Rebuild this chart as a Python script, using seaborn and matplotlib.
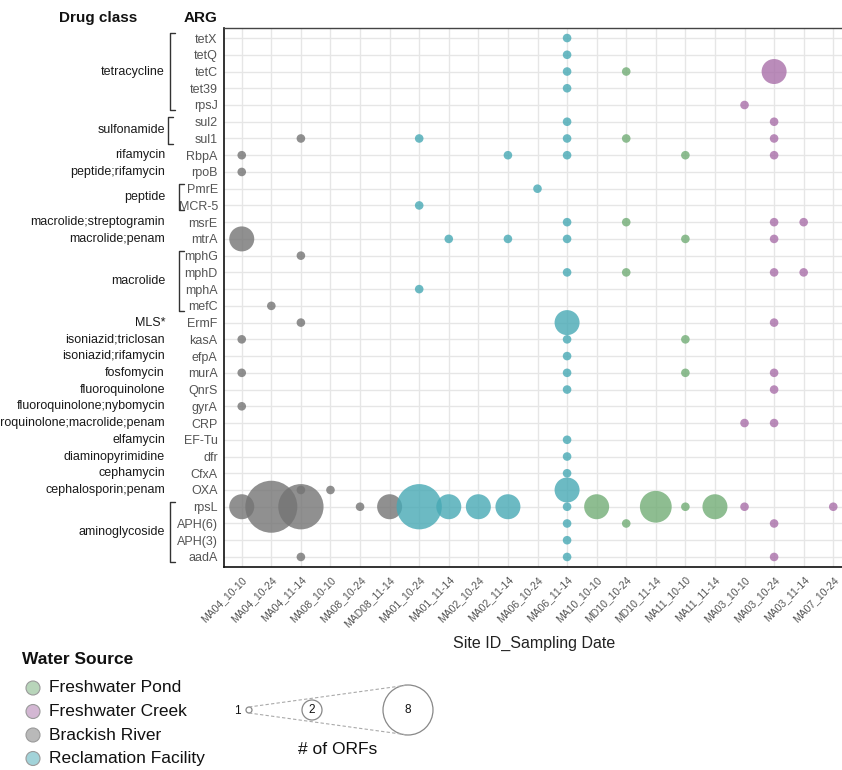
import numpy as np
import pandas as pd
import matplotlib
matplotlib.use("Agg")
import matplotlib.pyplot as plt
import matplotlib.transforms as mtrans
from matplotlib.patches import Circle
import seaborn as sns

# ---------------------------------------------------------------- data
samples = [
    "MA04_10-10", "MA04_10-24", "MA04_11-14", "MA08_10-10", "MA08_10-24",
    "MAD08_11-14", "MA01_10-24", "MA01_11-14", "MA02_10-24", "MA02_11-14",
    "MA06_10-24", "MA06_11-14", "MA10_10-10", "MD10_10-24", "MD10_11-14",
    "MA11_10-10", "MA11_11-14", "MA03_10-10", "MA03_10-24", "MA03_11-14",
    "MA07_10-24",
]
sample_source = (["Brackish River"] * 6 + ["Reclamation Facility"] * 6
                 + ["Freshwater Pond"] * 5 + ["Freshwater Creek"] * 4)

genes = [
    "tetX", "tetQ", "tetC", "tet39", "rpsJ", "sul2", "sul1", "RbpA", "rpoB",
    "PmrE", "MCR-5", "msrE", "mtrA", "mphG", "mphD", "mphA", "mefC", "ErmF",
    "kasA", "efpA", "murA", "QnrS", "gyrA", "CRP", "EF-Tu", "dfr", "CfxA",
    "OXA", "rpsL", "APH(6)", "APH(3)", "aadA",
]

# drug class annotation: (label, first ARG, last ARG)
drug_classes = [
    ("tetracycline", "tetX", "rpsJ"),
    ("sulfonamide", "sul2", "sul1"),
    ("rifamycin", "RbpA", "RbpA"),
    ("peptide;rifamycin", "rpoB", "rpoB"),
    ("peptide", "PmrE", "MCR-5"),
    ("macrolide;streptogramin", "msrE", "msrE"),
    ("macrolide;penam", "mtrA", "mtrA"),
    ("macrolide", "mphG", "mefC"),
    ("MLS*", "ErmF", "ErmF"),
    ("isoniazid;triclosan", "kasA", "kasA"),
    ("isoniazid;rifamycin", "efpA", "efpA"),
    ("fosfomycin", "murA", "murA"),
    ("fluoroquinolone", "QnrS", "QnrS"),
    ("fluoroquinolone;nybomycin", "gyrA", "gyrA"),
    ("fluoroquinolone;macrolide;penam", "CRP", "CRP"),
    ("elfamycin", "EF-Tu", "EF-Tu"),
    ("diaminopyrimidine", "dfr", "dfr"),
    ("cephamycin", "CfxA", "CfxA"),
    ("cephalosporin;penam", "OXA", "OXA"),
    ("aminoglycoside", "rpsL", "aadA"),
]

# detected ARGs, long format: sample, gene, number of ORFs
hit_sample = (
    ["MA04_10-10"] * 7 + ["MA04_10-24"] * 2 + ["MA04_11-14"] * 6
    + ["MA08_10-10"] + ["MA08_10-24"] + ["MAD08_11-14"]
    + ["MA01_10-24"] * 4 + ["MA01_11-14"] * 2 + ["MA02_10-24"]
    + ["MA02_11-14"] * 3 + ["MA06_10-24"] + ["MA06_11-14"] * 23
    + ["MA10_10-10"] + ["MD10_10-24"] * 5 + ["MD10_11-14"]
    + ["MA11_10-10"] * 5 + ["MA11_11-14"] + ["MA03_10-10"] * 3
    + ["MA03_10-24"] * 13 + ["MA03_11-14"] * 2 + ["MA07_10-24"]
)
hit_gene = [
    # MA04_10-10
    "RbpA", "rpoB", "mtrA", "kasA", "murA", "gyrA", "rpsL",
    # MA04_10-24
    "mefC", "rpsL",
    # MA04_11-14
    "sul1", "mphG", "ErmF", "OXA", "rpsL", "aadA",
    # MA08_10-10, MA08_10-24, MAD08_11-14
    "OXA", "rpsL", "rpsL",
    # MA01_10-24
    "sul1", "MCR-5", "mphA", "rpsL",
    # MA01_11-14
    "mtrA", "rpsL",
    # MA02_10-24
    "rpsL",
    # MA02_11-14
    "RbpA", "mtrA", "rpsL",
    # MA06_10-24
    "PmrE",
    # MA06_11-14
    "tetX", "tetQ", "tetC", "tet39", "sul2", "sul1", "RbpA", "msrE", "mtrA",
    "mphD", "ErmF", "kasA", "efpA", "murA", "QnrS", "EF-Tu", "dfr", "CfxA",
    "OXA", "rpsL", "APH(6)", "APH(3)", "aadA",
    # MA10_10-10
    "rpsL",
    # MD10_10-24
    "tetC", "sul1", "msrE", "mphD", "APH(6)",
    # MD10_11-14
    "rpsL",
    # MA11_10-10
    "RbpA", "mtrA", "kasA", "murA", "rpsL",
    # MA11_11-14
    "rpsL",
    # MA03_10-10
    "rpsJ", "CRP", "rpsL",
    # MA03_10-24
    "tetC", "sul2", "sul1", "RbpA", "msrE", "mtrA", "mphD", "ErmF", "murA",
    "QnrS", "CRP", "APH(6)", "aadA",
    # MA03_11-14
    "msrE", "mphD",
    # MA07_10-24
    "rpsL",
]
hit_orfs = [
    1, 1, 2, 1, 1, 1, 2,
    1, 8,
    1, 1, 1, 1, 6, 1,
    1, 1, 2,
    1, 1, 1, 6,
    1, 2,
    2,
    1, 1, 2,
    1,
    1, 1, 1, 1, 1, 1, 1, 1, 1, 1, 2, 1, 1, 1, 1, 1, 1, 1, 2, 1, 1, 1, 1,
    2,
    1, 1, 1, 1, 1,
    3,
    1, 1, 1, 1, 1,
    2,
    1, 1, 1,
    2, 1, 1, 1, 1, 1, 1, 1, 1, 1, 1, 1, 1,
    1, 1,
    1,
]

source_order = ["Freshwater Pond", "Freshwater Creek", "Brackish River",
                "Reclamation Facility"]
source_colors = {
    "Freshwater Pond": "#72ad76",
    "Freshwater Creek": "#a970a9",
    "Brackish River": "#747474",
    "Reclamation Facility": "#47a9b5",
}
size_key = [1, 2, 8]

# ---------------------------------------------------------------- frame
df = pd.DataFrame({"sample": hit_sample, "gene": hit_gene, "orfs": hit_orfs})
df["source"] = df["sample"].map(dict(zip(samples, sample_source)))
df["xpos"] = df["sample"].map({s: i for i, s in enumerate(samples)})
df["ypos"] = df["gene"].map({g: i for i, g in enumerate(genes)})

# bubble diameter grows with sqrt of ORF count (pixels at 100 dpi)
d_min, d_max = 8.6, 52.0
n_min, n_max = 1, 8


def diameter_px(n):
    return d_min + (d_max - d_min) * np.sqrt((n - n_min) / (n_max - n_min))


size_map = {n: (diameter_px(n) * 0.72) ** 2 for n in sorted(set(hit_orfs))}

# ---------------------------------------------------------------- figure
sns.set_style("white")
plt.rcParams["font.family"] = ["Liberation Sans", "DejaVu Sans"]

W, H = 842, 770
fig = plt.figure(figsize=(W / 100, H / 100), dpi=100)

ax_l, ax_r, ax_t, ax_b = 224, 851, 28, 567
ax = fig.add_axes([ax_l / W, 1 - ax_b / H, (ax_r - ax_l) / W, (ax_b - ax_t) / H])

sns.scatterplot(
    data=df, x="xpos", y="ypos", hue="source", palette=source_colors,
    size="orfs", sizes=size_map, alpha=0.8, linewidth=0, legend=False,
    ax=ax, zorder=3,
)

ax.set_xlim(-0.6, len(samples) - 0.4)
ax.set_ylim(len(genes) - 0.4, -0.6)
ax.set_xticks(range(len(samples)))
ax.set_xticklabels(samples, rotation=45, ha="right", rotation_mode="anchor",
                   fontsize=7.5, color="#555555")
ax.set_yticks(range(len(genes)))
ax.set_yticklabels(genes, fontsize=9, color="#555555")
ax.tick_params(axis="both", length=3, width=0.9, color="#222222")
ax.tick_params(axis="y", pad=1.5)
ax.tick_params(axis="x", pad=2.5)
ax.grid(True, color="#e6e6e6", linewidth=1.0)
ax.set_axisbelow(True)
for side in ("left", "bottom"):
    ax.spines[side].set_color("#111111")
    ax.spines[side].set_linewidth(1.2)
ax.spines["top"].set_color("#444444")
ax.spines["top"].set_linewidth(1.0)
ax.spines["right"].set_color("#444444")
ax.set_xlabel("Site ID_Sampling Date", fontsize=11.5, color="#222222")
ax.xaxis.set_label_coords(0.495, -0.128)
ax.set_ylabel("")

# ------------------------------------------------ drug class annotation
# x in output pixels, y in gene rows
px_rows = mtrans.blended_transform_factory(mtrans.IdentityTransform(), ax.transData)
gene_row = {g: i for i, g in enumerate(genes)}
bracket_px = {"tetracycline": 170, "sulfonamide": 168, "peptide": 179,
              "macrolide": 179, "aminoglycoside": 170}

for label, first, last in drug_classes:
    y0, y1 = gene_row[first], gene_row[last]
    fig.text(165, (y0 + y1) / 2, label, transform=px_rows, ha="right",
             va="center", fontsize=9, color="#1a1a1a")
    if label in bracket_px:
        bx = bracket_px[label]
        ax.plot([bx + 5, bx, bx, bx + 5], [y0 - 0.3, y0 - 0.3, y1 + 0.3, y1 + 0.3],
                transform=px_rows, clip_on=False, color="#333333", lw=1.0)

# ---------------------------------------------------------------- overlay
ov = fig.add_axes([0, 0, 1, 1], zorder=-1)
ov.set_xlim(0, W)
ov.set_ylim(H, 0)
ov.axis("off")

ov.text(98, 18, "Drug class", ha="center", va="center", fontsize=11,
        fontweight="bold", color="#111111")
ov.text(218, 18, "ARG", ha="right", va="center", fontsize=11,
        fontweight="bold", color="#111111")

# water source legend
ov.text(22, 660, "Water Source", ha="left", va="center", fontsize=12.5,
        fontweight="bold", color="#111111")
for i, src in enumerate(source_order):
    yy = 688 + i * 23.5
    ov.add_patch(Circle((33, yy), 7, facecolor=source_colors[src], alpha=0.5,
                        edgecolor="none"))
    ov.add_patch(Circle((33, yy), 7, facecolor="none", edgecolor="#9a9a9a",
                        lw=0.8))
    ov.text(49, yy, src, ha="left", va="center", fontsize=12.5, color="#111111")

# ORF count key
key_x = [249, 312, 408]
key_r = [3, 10, 25]
key_y = 710
ov.plot([key_x[0], key_x[2]], [key_y - key_r[0], key_y - key_r[2]],
        ls=(0, (3, 2)), color="#aaaaaa", lw=0.8)
ov.plot([key_x[0], key_x[2]], [key_y + key_r[0], key_y + key_r[2]],
        ls=(0, (3, 2)), color="#aaaaaa", lw=0.8)
for cx, r, n in zip(key_x, key_r, size_key):
    ov.add_patch(Circle((cx, key_y), r, facecolor="white", edgecolor="#888888",
                        lw=0.9))
    if r > 5:
        ov.text(cx, key_y, str(n), ha="center", va="center", fontsize=8.5,
                color="#111111")
    else:
        ov.text(cx - 12, key_y + 1, str(n), ha="center", va="center",
                fontsize=8.5, color="#111111")
ov.text(338, 750, "# of ORFs", ha="center", va="center", fontsize=12.5,
        color="#111111")

fig.savefig("out.png", dpi=100, facecolor="white")
